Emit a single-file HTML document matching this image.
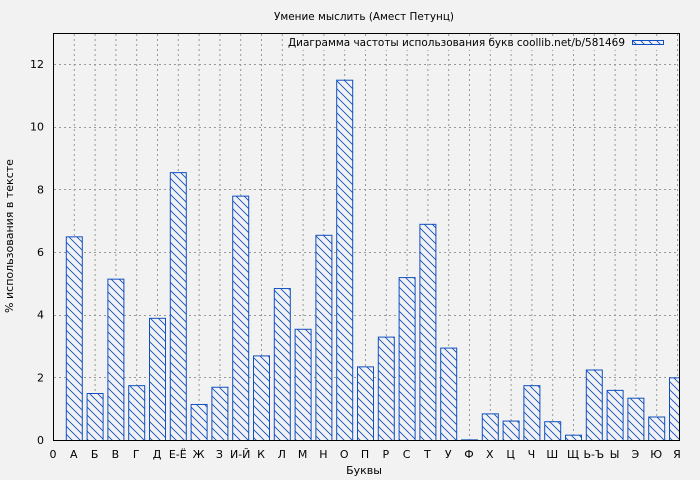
<!DOCTYPE html>
<html><head><meta charset="utf-8"><style>body{margin:0;background:#f2f2f2}svg{display:block}text{font-family:"DejaVu Sans","Liberation Sans",sans-serif;font-size:11px;fill:#000}</style></head><body>
<svg width="700" height="480" xmlns="http://www.w3.org/2000/svg">
<defs><pattern id="h" patternUnits="userSpaceOnUse" width="8" height="8"><rect width="8" height="8" fill="#f2f2f2"/><path d="M-2,-2 L10,10 M-2,6 L2,10 M6,-2 L10,2" stroke="#1050c0" stroke-width="0.9"/></pattern></defs>
<rect width="700" height="480" fill="#f2f2f2"/>
<text x="364" y="20" text-anchor="middle" textLength="180" lengthAdjust="spacingAndGlyphs">Умение мыслить (Амест Петунц)</text>
<g id="grid" stroke="#999" stroke-dasharray="2,3" stroke-width="1"></g>
<g id="bars"></g>
<rect x="53.5" y="33.5" width="626" height="407" fill="none" stroke="#000"/>
<g id="ticks"></g>
<text x="364" y="474" text-anchor="middle">Буквы</text>
<text transform="translate(13,236) rotate(-90)" text-anchor="middle">% использования в тексте</text>
<rect x="284" y="36" width="392" height="14" fill="#f2f2f2"/>
<text x="288" y="46" textLength="337" lengthAdjust="spacingAndGlyphs">Диаграмма частоты использования букв coollib.net/b/581469</text>
<rect x="632.5" y="40.5" width="31" height="4" fill="url(#h)" stroke="#1050c0"/>
</svg>
<script>
var ns="http://www.w3.org/2000/svg";
function el(p,t,a,tx){var e=document.createElementNS(ns,t);for(var k in a)e.setAttribute(k,a[k]);if(tx!=null)e.textContent=tx;document.getElementById(p).appendChild(e);}
var L=["0","А","Б","В","Г","Д","Е-Ё","Ж","З","И-Й","К","Л","М","Н","О","П","Р","С","Т","У","Ф","Х","Ц","Ч","Ш","Щ","Ь-Ъ","Ы","Э","Ю","Я"];
var V=[0,6.5,1.5,5.15,1.75,3.9,8.55,1.15,1.7,7.8,2.7,4.85,3.55,6.55,11.5,2.35,3.3,5.2,6.9,2.95,0.02,0.85,0.62,1.75,0.6,0.17,2.25,1.6,1.35,0.75,2.0];
var y0=440,s=31.33;
for(var i=0;i<=30;i++){var x=53+20.8*i;
 el("grid","line",{x1:x+.5,x2:x+.5,y1:34,y2:440});
 el("ticks","text",{x:x,y:458,"text-anchor":"middle"},L[i]);
 if(i>0){var h=V[i]*s;var w=Math.min(16,679-(x-8));el("bars","rect",{x:x-8+.5,y:y0-h+.5,width:w,height:Math.max(h,0.5),fill:"url(#h)",stroke:"#1050c0","stroke-width":1});}}
for(var v=0;v<=12;v+=2){var y=y0-v*s;if(v>0)el("grid","line",{x1:54,x2:679,y1:Math.round(y)+.5,y2:Math.round(y)+.5});
 el("ticks","text",{x:44,y:y+4,"text-anchor":"end"},v);}
</script>
</body></html>
